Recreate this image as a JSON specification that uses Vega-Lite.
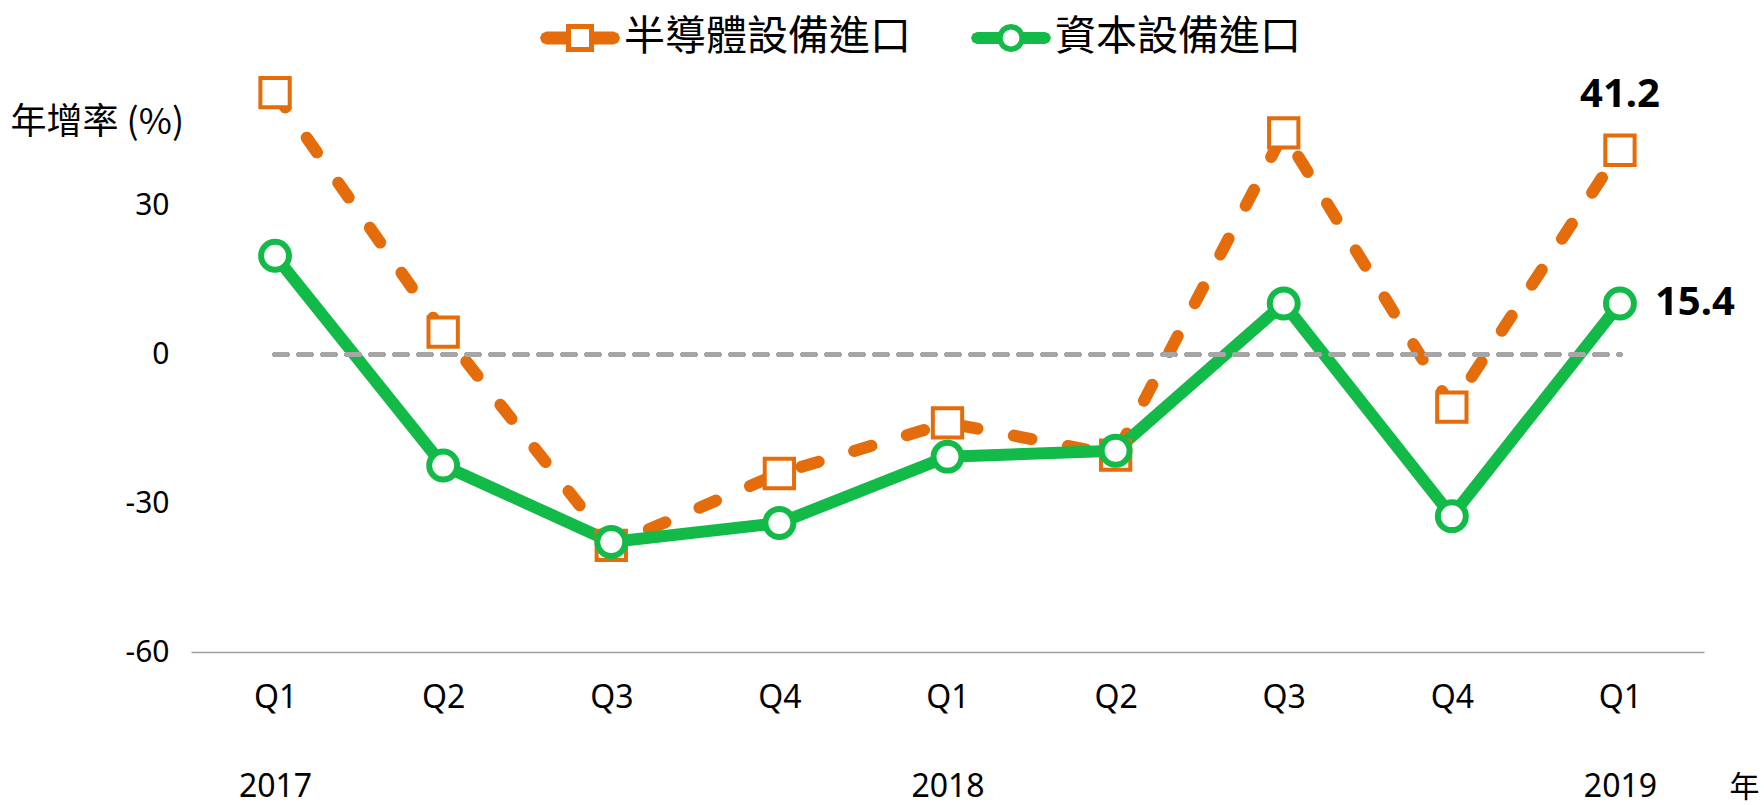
{
  "$schema": "https://vega.github.io/schema/vega-lite/v6.json",
  "autosize": {"type": "none"},
  "width": 1513,
  "height": 595,
  "padding": {"left": 191, "top": 57, "right": 60, "bottom": 153},
  "background": "white",
  "config": {"view": {"stroke": null}},
  "data": {
    "values": [
      {"period": "2017 Q1", "series": "半導體設備進口", "v": 52.8},
      {"period": "2017 Q2", "series": "半導體設備進口", "v": 4.5},
      {"period": "2017 Q3", "series": "半導體設備進口", "v": -38.5},
      {"period": "2017 Q4", "series": "半導體設備進口", "v": -24.0},
      {"period": "2018 Q1", "series": "半導體設備進口", "v": -13.8},
      {"period": "2018 Q2", "series": "半導體設備進口", "v": -20.3},
      {"period": "2018 Q3", "series": "半導體設備進口", "v": 44.7},
      {"period": "2018 Q4", "series": "半導體設備進口", "v": -10.6},
      {"period": "2019 Q1", "series": "半導體設備進口", "v": 41.2, "label": "41.2"},
      {"period": "2017 Q1", "series": "資本設備進口", "v": 19.9},
      {"period": "2017 Q2", "series": "資本設備進口", "v": -22.4},
      {"period": "2017 Q3", "series": "資本設備進口", "v": -37.8},
      {"period": "2017 Q4", "series": "資本設備進口", "v": -34.0},
      {"period": "2018 Q1", "series": "資本設備進口", "v": -20.6},
      {"period": "2018 Q2", "series": "資本設備進口", "v": -19.4},
      {"period": "2018 Q3", "series": "資本設備進口", "v": 10.3},
      {"period": "2018 Q4", "series": "資本設備進口", "v": -32.6},
      {"period": "2019 Q1", "series": "資本設備進口", "v": 10.3, "label": "15.4"}
    ]
  },
  "encoding": {
    "x": {
      "field": "period",
      "type": "ordinal",
      "scale": {"type": "point", "padding": 0.5},
      "axis": {
        "title": "年",
        "titleX": 1553,
        "titleY": 135,
        "titleAlign": "center",
        "titleBaseline": "middle",
        "titleFont": "Noto Sans CJK TC",
        "titleFontSize": 30,
        "titleFontWeight": "normal",
        "titleColor": "#000000",
        "labelExpr": "split(datum.value, ' ')[1] == 'Q1' ? [split(datum.value, ' ')[1], split(datum.value, ' ')[0]] : split(datum.value, ' ')[1]",
        "labelAngle": 0,
        "labelFont": "Noto Sans",
        "labelFontSize": 32,
        "labelColor": "#000000",
        "labelPadding": 30,
        "labelLineHeight": 89,
        "ticks": false,
        "grid": false,
        "domainColor": "#a0a0a0",
        "domainWidth": 1.5
      }
    },
    "y": {
      "field": "v",
      "type": "quantitative",
      "scale": {"domain": [-60, 60], "nice": false, "zero": false},
      "axis": {
        "values": [-60, -30, 0, 30],
        "labelExpr": "toString(datum.value)",
        "title": "年增率 (%)",
        "titleAngle": 0,
        "titleX": -181,
        "titleY": 65,
        "titleAlign": "left",
        "titleBaseline": "middle",
        "titleFont": "Noto Sans CJK TC",
        "titleFontSize": 36,
        "titleFontWeight": "normal",
        "titleColor": "#000000",
        "labelFont": "Noto Sans",
        "labelFontSize": 30,
        "labelColor": "#000000",
        "labelPadding": 22,
        "domain": false,
        "ticks": false,
        "grid": false
      }
    }
  },
  "layer": [
    {
      "transform": [{"filter": "datum.series === '半導體設備進口'"}],
      "mark": {"type": "line", "strokeWidth": 12, "strokeCap": "round", "strokeJoin": "round", "strokeDash": [18, 37]},
      "encoding": {
        "color": {
          "field": "series",
          "type": "nominal",
          "scale": {"domain": ["半導體設備進口", "資本設備進口"], "range": ["#E46C0A", "#12BA47"]},
          "legend": {
            "title": null,
            "orient": "none",
            "direction": "horizontal",
            "legendX": 349,
            "legendY": -59,
            "padding": 0,
            "symbolStrokeWidth": 0,
            "labelFont": "Noto Sans CJK TC",
            "labelFontSize": 41,
            "labelColor": "#000000",
            "labelOffset": 4,
            "labelLimit": 600,
            "columnPadding": 60,
            "encode": {
              "symbols": {
                "update": {
                  "shape": {"signal": "datum.value === '半導體設備進口' ? 'M-0.84,-0.16 L-0.3,-0.16 L-0.3,0.16 L-0.84,0.16 L-0.953,0.113 L-1,0 L-0.953,-0.113 Z M0.3,-0.16 L0.84,-0.16 L0.953,-0.113 L1,0 L0.953,0.113 L0.84,0.16 L0.3,0.16 Z M-0.35,-0.35 L0.35,-0.35 L0.35,0.35 L-0.35,0.35 Z M-0.225,-0.225 L-0.225,0.225 L0.225,0.225 L0.225,-0.225 Z' : 'M-0.85,-0.15 L-0.3,-0.15 L-0.3,0.15 L-0.85,0.15 L-0.956,0.106 L-1,0 L-0.956,-0.106 Z M0.3,-0.15 L0.85,-0.15 L0.956,-0.106 L1,0 L0.956,0.106 L0.85,0.15 L0.3,0.15 Z M0.35,0 L0.323,0.134 L0.247,0.247 L0.134,0.323 L0,0.35 L-0.134,0.323 L-0.247,0.247 L-0.323,0.134 L-0.35,0 L-0.323,-0.134 L-0.247,-0.247 L-0.134,-0.323 L0,-0.35 L0.134,-0.323 L0.247,-0.247 L0.323,-0.134 Z M0.21,0 L0.194,-0.08 L0.148,-0.148 L0.08,-0.194 L0,-0.21 L-0.08,-0.194 L-0.148,-0.148 L-0.194,-0.08 L-0.21,0 L-0.194,0.08 L-0.148,0.148 L-0.08,0.194 L0,0.21 L0.08,0.194 L0.148,0.148 L0.194,0.08 Z'"},
                  "fill": {"signal": "datum.value === '半導體設備進口' ? '#E46C0A' : '#12BA47'"},
                  "fillOpacity": {"value": 1},
                  "stroke": {"value": "transparent"},
                  "strokeWidth": {"value": 0},
                  "strokeDash": {"value": [1, 0]},
                  "size": {"value": 6400},
                  "opacity": {"value": 1}
                }
              }
            }
          }
        }
      }
    },
    {
      "transform": [{"filter": "datum.series === '資本設備進口'"}],
      "mark": {"type": "line", "strokeWidth": 12, "strokeCap": "round", "strokeJoin": "round"},
      "encoding": {
        "color": {
          "field": "series",
          "type": "nominal",
          "scale": {"domain": ["半導體設備進口", "資本設備進口"], "range": ["#E46C0A", "#12BA47"]}
        }
      }
    },
    {
      "mark": {"type": "rule", "color": "#A6A6A6", "strokeWidth": 5, "strokeDash": [12, 12], "strokeCap": "round"},
      "encoding": {
        "x": {"datum": "2017 Q1", "type": "ordinal"},
        "x2": {"datum": "2019 Q1"},
        "y": {"datum": 0, "type": "quantitative"}
      }
    },
    {
      "transform": [{"filter": "datum.series === '半導體設備進口'"}],
      "mark": {"type": "point", "shape": "square", "size": 860, "filled": false, "fill": "#ffffff", "fillOpacity": 1, "opacity": 1, "stroke": "#E46C0A", "strokeWidth": 4}
    },
    {
      "transform": [{"filter": "datum.series === '資本設備進口'"}],
      "mark": {"type": "point", "shape": "circle", "size": 780, "filled": false, "fill": "#ffffff", "fillOpacity": 1, "opacity": 1, "stroke": "#12BA47", "strokeWidth": 6}
    },
    {
      "transform": [{"filter": "datum.series === '半導體設備進口' && isValid(datum.label)"}],
      "mark": {"type": "text", "font": "Noto Sans", "fontSize": 40, "fontWeight": "bold", "color": "#000000", "align": "center", "baseline": "middle", "dy": -55},
      "encoding": {"text": {"field": "label"}}
    },
    {
      "transform": [{"filter": "datum.series === '資本設備進口' && isValid(datum.label)"}],
      "mark": {"type": "text", "font": "Noto Sans", "fontSize": 40, "fontWeight": "bold", "color": "#000000", "align": "left", "baseline": "middle", "dx": 35},
      "encoding": {"text": {"field": "label"}}
    }
  ]
}
